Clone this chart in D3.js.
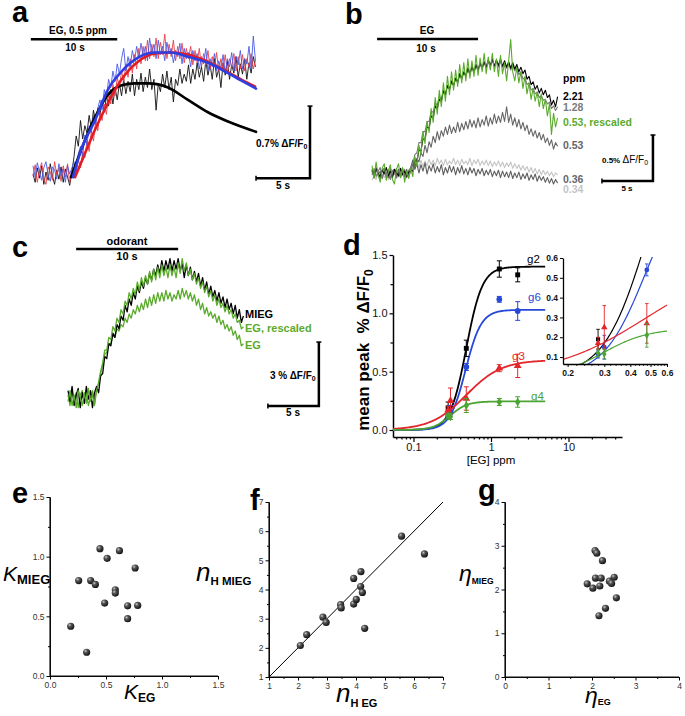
<!DOCTYPE html>
<html><head><meta charset="utf-8">
<script src="https://cdn.jsdelivr.net/npm/d3@7"></script>
<style>body{margin:0;background:#fff;} svg{display:block;font-family:Arial,"Liberation Sans",Helvetica,sans-serif;}</style>
</head><body><script>
// ================= DATA =================
// panel a: traces sampled every 0.2 s (% dF/F0)
const aDt = 0.2;
const aBlue = [0.06,-0.05,0.09,0.0,-0.08,0.04,0.1,-0.03,-0.09,0.05,0.02,-0.07,0.08,-0.04,0.03,-0.1,0.06,-0.02,0.04,
 0.1,-0.02,0.18,0.25,0.15,0.36,0.26,0.45,0.38,0.55,0.46,0.62,0.7,0.6,0.8,0.72,0.9,0.82,0.98,0.88,1.05,0.95,1.1,1.2,0.98,1.12,1.02,1.18,1.08,1.22,1.1,1.25,1.12,1.22,1.08,1.3,1.15,1.24,1.1,1.28,1.14,1.22,1.08,1.26,1.15,1.2,1.06,1.18,1.12,1.25,1.05,1.2,1.1,1.16,1.02,1.18,1.08,1.15,1.0,1.12,1.05,1.2,0.98,1.1,1.02,1.15,0.98,1.08,1.0,1.14,0.96,1.1,1.02,1.16,0.98,1.12,1.04,1.18,1.0,1.1,1.05,1.22,1.0,1.32,1.08];
const aRed = [-0.04,0.07,-0.1,0.02,0.09,-0.06,-0.12,0.05,0.0,-0.08,0.1,-0.03,0.04,-0.09,0.06,-0.05,0.08,-0.11,0.02,-0.06,
 0.0,0.12,0.04,0.2,0.14,0.3,0.2,0.4,0.3,0.5,0.4,0.58,0.5,0.66,0.56,0.75,0.66,0.85,0.74,0.92,0.82,0.98,0.88,1.05,0.92,1.1,0.96,1.14,1.0,1.2,1.05,1.22,1.08,1.28,1.1,1.24,1.12,1.3,1.1,1.26,1.14,1.34,1.1,1.24,1.12,1.28,1.08,1.22,1.1,1.25,1.06,1.2,1.1,1.22,1.04,1.18,1.06,1.2,1.02,1.15,1.04,1.18,1.0,1.12,1.02,1.16,0.98,1.1,1.0,1.14,0.96,1.1,1.02,1.15,0.98,1.12,1.0,1.14,0.98,1.1,1.02,1.15,1.0,1.08];
const aBlack = [-0.02,-0.1,0.04,-0.06,0.06,-0.12,0.0,-0.08,0.08,-0.04,-0.12,0.02,-0.07,0.05,-0.1,0.03,-0.05,-0.13,
 0.0,0.15,0.35,0.25,0.5,0.32,0.45,0.38,0.55,0.42,0.6,0.48,0.62,0.55,0.7,0.58,0.74,0.64,0.8,0.66,0.82,0.7,0.86,0.74,0.9,0.76,0.88,0.78,0.95,0.74,0.9,0.8,0.96,0.78,0.92,0.82,1.0,0.8,0.9,0.6,0.86,0.78,0.95,0.82,0.98,0.8,0.92,0.68,0.9,0.84,1.0,0.86,0.95,0.88,1.04,0.86,1.0,0.9,1.06,0.92,1.02,0.88,1.08,0.94,1.04,0.9,1.1,0.92,1.0,0.82,1.06,0.94,1.08,0.9,1.04,0.96,1.12,0.92,1.05,0.95,1.1,0.9,1.06,0.96,1.12,1.02];
// fits: [time s, % dF/F0]
const aFitBlack = [[3.52,-0.05],[4.44,0.21],[5.74,0.53],[6.94,0.75],[8.15,0.84],[9.44,0.86],[10.65,0.86],[12.5,0.82],[14.35,0.7],[16.2,0.58],[18.06,0.49],[20.65,0.39]];
const aFitRed = [[3.89,-0.05],[4.81,0.18],[5.74,0.41],[6.94,0.67],[8.15,0.89],[9.72,1.07],[11.3,1.15],[12.78,1.16],[14.35,1.14],[16.2,1.07],[18.06,0.97],[19.26,0.9],[20.56,0.83]];
const aFitBlue = [[3.7,-0.05],[4.44,0.21],[5.74,0.5],[6.94,0.8],[8.15,0.97],[9.72,1.11],[11.3,1.16],[12.78,1.16],[14.35,1.12],[16.2,1.06],[18.06,0.96],[19.26,0.89],[20.65,0.81]];
const aStim = [-0.2, 7.8];

// panel b: sampled every 0.2 s
const bDt = 0.2;
const b221 = [0.04,-0.02,0.05,0.0,-0.04,0.03,-0.01,0.06,-0.03,0.02,-0.05,0.04,0.0,-0.03,0.05,-0.02,0.02,-0.04,0.01,
 0.03,0.02,0.14,0.12,0.25,0.24,0.37,0.37,0.5,0.49,0.62,0.6,0.73,0.7,0.8,0.78,0.89,0.85,0.95,0.91,1.0,0.95,1.03,0.99,1.08,1.03,1.1,1.06,1.14,1.08,1.16,1.1,1.18,1.12,1.2,1.14,1.21,1.15,1.23,1.17,1.24,1.16,1.23,1.17,1.24,1.16,1.22,1.15,1.21,1.14,1.2,1.13,1.18,1.1,1.15,1.08,1.12,1.02,1.05,0.96,0.99,0.91,0.95,0.87,0.92,0.85,0.9,0.82,0.85,0.74,0.79,0.72,0.83];
const b128 = [-0.02,0.05,-0.04,0.02,0.06,-0.05,0.01,-0.03,0.04,-0.06,0.03,-0.01,0.05,-0.04,0.02,-0.02,0.04,-0.05,0.03,
 0.06,0.1,0.2,0.22,0.33,0.33,0.45,0.45,0.56,0.56,0.67,0.66,0.76,0.74,0.83,0.8,0.9,0.86,0.95,0.91,0.99,0.95,1.03,0.98,1.06,1.02,1.09,1.05,1.12,1.07,1.14,1.09,1.16,1.11,1.18,1.13,1.2,1.14,1.21,1.15,1.22,1.16,1.22,1.15,1.21,1.15,1.2,1.14,1.19,1.12,1.17,1.11,1.15,1.07,1.1,1.02,1.04,0.96,0.98,0.9,0.92,0.86,0.88,0.82,0.84,0.79,0.8,0.75,0.77,0.7,0.73,0.68,0.72];
const b053r = [0.08,-0.06,0.12,-0.02,-0.1,0.05,0.1,-0.08,0.02,0.09,-0.07,-0.12,0.04,0.1,-0.05,0.06,-0.1,0.02,-0.06,
 0.05,-0.04,0.18,0.08,0.3,0.2,0.45,0.32,0.56,0.44,0.7,0.55,0.82,0.64,0.9,0.72,0.98,0.78,1.05,0.85,1.1,0.9,1.12,0.94,1.18,0.98,1.2,1.0,1.24,1.03,1.22,1.05,1.28,1.06,1.25,1.1,1.3,1.08,1.26,1.12,1.3,1.1,1.24,1.05,1.28,1.08,1.2,1.0,1.22,1.45,1.1,1.0,1.15,0.98,1.1,0.92,1.05,0.86,0.98,0.8,0.92,0.78,0.88,0.72,0.86,0.7,0.8,0.62,0.75,0.42,0.65,0.5,0.6];
const b053 = [0.03,-0.04,0.06,-0.02,0.02,-0.06,0.04,0.0,-0.05,0.05,-0.03,0.02,-0.05,0.04,-0.02,0.05,-0.04,0.01,-0.03,
 0.02,0.1,0.06,0.16,0.12,0.22,0.18,0.3,0.22,0.34,0.28,0.4,0.33,0.45,0.36,0.46,0.4,0.5,0.42,0.52,0.43,0.5,0.44,0.55,0.45,0.54,0.47,0.56,0.48,0.58,0.5,0.57,0.49,0.6,0.5,0.58,0.52,0.62,0.51,0.6,0.53,0.64,0.54,0.62,0.55,0.66,0.56,0.72,0.55,0.64,0.52,0.6,0.5,0.58,0.48,0.55,0.46,0.52,0.42,0.48,0.4,0.46,0.38,0.44,0.36,0.42,0.33,0.38,0.3,0.36,0.26,0.33,0.29];
const b036 = [0.02,-0.05,0.04,-0.02,-0.06,0.03,0.05,-0.04,0.0,-0.07,0.02,0.04,-0.03,0.01,-0.05,0.03,-0.02,0.04,-0.04,
 0.06,0.14,0.04,0.1,0.0,0.09,0.02,0.11,-0.01,0.08,0.02,0.1,0.0,0.07,0.01,0.09,-0.02,0.06,0.0,0.08,0.01,0.07,-0.02,0.06,0.0,0.08,-0.01,0.05,-0.02,0.06,0.0,0.05,-0.03,0.04,-0.01,0.05,-0.03,0.03,-0.02,0.04,-0.04,0.02,-0.03,0.03,-0.05,0.02,-0.04,0.01,-0.05,0.02,-0.06,0.0,-0.05,0.01,-0.07,-0.01,-0.06,0.0,-0.08,-0.02,-0.07,-0.01,-0.09,-0.03,-0.08,-0.04,-0.1,-0.05,-0.11,-0.06,-0.12,-0.07,-0.11];
const b034 = [-0.08,-0.03,-0.07,0.0,-0.06,-0.02,-0.05,0.01,-0.07,-0.01,-0.04,0.0,-0.06,-0.02,-0.03,0.01,-0.05,-0.01,-0.03,
 0.02,0.08,0.04,0.12,0.06,0.14,0.07,0.13,0.08,0.15,0.09,0.14,0.08,0.16,0.1,0.14,0.08,0.15,0.09,0.13,0.1,0.16,0.09,0.14,0.08,0.15,0.1,0.13,0.09,0.16,0.08,0.14,0.1,0.15,0.08,0.13,0.09,0.14,0.08,0.13,0.07,0.12,0.08,0.13,0.07,0.12,0.06,0.11,0.07,0.12,0.05,0.1,0.05,0.09,0.03,0.08,0.03,0.07,0.01,0.06,0.0,0.05,-0.01,0.04,-0.02,0.03,-0.02,0.02,-0.03,0.01,-0.04,0.0,-0.02];
const bStim = [0.5, 10.4];
const bLabels = ["ppm","2.21","1.28","0.53, rescaled","0.53","0.36","0.34"];

// panel c: sampled every 0.2 s
const cDt = 0.2;
const cMIEG = [0.3,-0.2,0.5,-0.4,0.1,0.4,-0.5,0.2,-0.3,0.5,-0.1,0.3,-0.5,0.2,
 0.5,0.2,1.0,1.1,1.9,1.8,2.5,2.4,3.0,2.8,3.4,3.2,3.8,3.6,4.3,4.0,4.6,4.3,4.9,4.6,5.2,4.9,5.4,5.1,5.6,5.3,5.8,5.5,6.0,5.7,6.2,5.8,6.4,5.9,6.4,6.0,6.5,5.9,6.4,6.0,6.5,5.9,6.3,5.6,6.2,5.7,6.1,5.5,5.9,5.4,5.8,5.2,5.6,5.0,5.4,4.8,5.2,4.7,5.0,4.5,4.9,4.4,4.7,4.2,4.6,4.1,4.4,3.9,4.3,3.7,4.1,3.5,3.8];
const cEGres = [-0.2,0.3,-0.4,0.1,-0.5,0.3,0.0,-0.4,0.2,-0.3,0.4,-0.2,0.1,-0.4,
 0.3,0.7,1.2,1.6,2.2,2.2,2.8,2.7,3.3,3.1,3.7,3.5,4.1,3.9,4.5,4.3,4.9,4.6,5.1,4.8,5.4,5.0,5.6,5.2,5.7,5.3,5.9,5.4,6.0,5.5,6.1,5.6,6.2,5.7,6.1,5.6,6.2,5.7,6.1,5.6,6.3,5.8,6.5,5.9,6.3,5.7,6.0,5.5,5.8,5.3,5.6,5.1,5.4,4.9,5.2,4.7,5.0,4.5,4.8,4.3,4.6,4.2,4.4,4.0,4.3,3.9,4.1,3.7,3.9,3.5,3.6,3.2,3.3];
const cEG = [0.1,-0.4,0.3,-0.2,0.2,-0.5,0.1,0.3,-0.3,0.2,-0.4,0.0,0.3,-0.3,
 0.4,0.6,1.1,1.5,2.0,2.1,2.5,2.5,2.9,2.8,3.2,3.1,3.4,3.3,3.7,3.5,3.9,3.7,4.1,3.9,4.3,4.0,4.4,4.1,4.6,4.2,4.7,4.3,4.8,4.4,4.9,4.5,4.9,4.5,5.0,4.6,4.9,4.5,4.8,4.6,5.0,4.6,5.1,4.7,5.0,4.6,4.9,4.5,4.8,4.3,4.6,4.1,4.4,3.9,4.2,3.8,4.0,3.7,3.9,3.5,3.8,3.4,3.6,3.2,3.4,3.1,3.3,2.9,3.1,2.7,2.9,2.4,2.5];
const cStim = [0.8, 10.8];

// panel d: dose-response (x ppm, mean peak, error)
const g2X=[0.28,0.48,1.28,2.21], g2Y=[0.19,0.70,1.38,1.33], g2E=[0.05,0.07,0.07,0.06];
const g6X=[0.28,0.30,0.48,1.28,2.21], g6Y=[0.115,0.15,0.54,1.12,1.02], g6E=[0.02,0.06,0.03,0.025,0.08];
const g3X=[0.28,0.30,0.48,1.28,2.21], g3Y=[0.17,0.25,0.27,0.53,0.55], g3E=[0.03,0.11,0.1,0.03,0.1];
const g4X=[0.28,0.30,0.48,1.28,2.21], g4Y=[0.12,0.115,0.21,0.24,0.24], g4E=[0.02,0.025,0.06,0.03,0.045];
// Hill fit parameters
const fitNames=["g2","g6","g3","g4"];
const fitMax=[1.40,1.03,0.60,0.245];
const fitK=[0.48,0.47,0.48,0.297];
const fitN=[4.2,4.3,1.9,4.0];
const dYTicks=[0,0.5,1.0,1.5];
const dXTicks=[0.1,1,10];
const insetYTicks=[0.1,0.2,0.3,0.4,0.5,0.6];
const insetXTicks=[0.2,0.3,0.4,0.5,0.6];

// panel e
const eKEG=[0.446,0.62,0.51,0.76,0.256,0.363,0.405,0.583,0.583,0.488,0.693,0.783,0.693,0.185,0.327];
const eKMIEG=[1.067,1.05,0.986,0.905,0.80,0.80,0.767,0.722,0.695,0.611,0.588,0.591,0.48,0.417,0.199];
// panel f
const fNEG=[2.08,2.30,2.86,2.97,3.47,3.49,3.92,3.92,4.01,4.17,4.16,4.22,4.30,5.57,6.36];
const fNMIEG=[2.08,2.45,3.05,2.87,3.48,3.37,4.38,3.50,3.66,4.61,4.10,3.90,2.67,5.83,5.22];
// panel g
const gEtaEG=[2.07,2.11,2.24,2.08,2.21,2.51,2.40,2.45,1.89,2.02,2.18,2.56,2.31,2.16];
const gEtaMIEG=[2.89,2.83,2.66,2.26,2.26,2.28,2.19,2.14,2.13,2.03,2.08,1.81,1.57,1.40];

// ================= DRAWING =================
const FONT="Arial,'Liberation Sans',Helvetica,sans-serif";
const svg=d3.select("body").append("svg").attr("width",685).attr("height",716);
svg.append("rect").attr("width",685).attr("height",716).attr("fill","#fff");
const defs=svg.append("defs");
const grad=defs.append("radialGradient").attr("id","sphere").attr("cx","35%").attr("cy","32%").attr("r","70%");
grad.append("stop").attr("offset","0%").attr("stop-color","#c8c8c8");
grad.append("stop").attr("offset","35%").attr("stop-color","#555");
grad.append("stop").attr("offset","100%").attr("stop-color","#111");

function rich(sel,x,y,parts,anchor){
  const t=sel.append("text").attr("x",x).attr("y",y).attr("text-anchor",anchor||"start");
  parts.forEach(p=>{
    const s=t.append("tspan").text(p.t).attr("font-size",p.size);
    if(p.weight) s.attr("font-weight",p.weight);
    if(p.style) s.attr("font-style",p.style);
    if(p.dy!==undefined) s.attr("dy",p.dy);
    if(p.fill) s.attr("fill",p.fill);
  });
  return t;
}
function label(sel,x,y,txt,size,opts){
  opts=opts||{};
  return sel.append("text").attr("x",x).attr("y",y).text(txt).attr("font-size",size)
    .attr("font-weight",opts.weight||"bold").attr("fill",opts.fill||"#000")
    .attr("text-anchor",opts.anchor||"start");
}
function trace(g,xs,ys,vals,dt,color,w){
  g.append("path").attr("d",d3.line().x((d,i)=>xs(i*dt)).y(d=>ys(d))(vals))
   .attr("fill","none").attr("stroke",color).attr("stroke-width",w).attr("stroke-linejoin","round");
}
function fit(g,xs,ys,pts,color,w){
  g.append("path").attr("d",d3.line().curve(d3.curveMonotoneX).x(d=>xs(d[0])).y(d=>ys(d[1]))(pts))
   .attr("fill","none").attr("stroke",color).attr("stroke-width",w).attr("stroke-linecap","round");
}
function scaleBar(g,xs,ys,t0,v0,dT,dV){
  const x0=xs(t0),x1=xs(t0+dT),y0=ys(v0),y1=ys(v0+dV);
  g.append("path").attr("d",`M${x0},${y0}H${x1}V${y1}`).attr("fill","none").attr("stroke","#000").attr("stroke-width",2.5);
  g.append("line").attr("x1",x0).attr("x2",x0).attr("y1",y0-2.5).attr("y2",y0+2.5).attr("stroke","#000").attr("stroke-width",1.5);
  g.append("line").attr("x1",x1-2.5).attr("x2",x1+2.5).attr("y1",y1).attr("y2",y1).attr("stroke","#000").attr("stroke-width",1.5);
}
function stimBar(g,xs,ys,range,v){
  g.append("line").attr("x1",xs(range[0])).attr("x2",xs(range[1])).attr("y1",ys(v)).attr("y2",ys(v))
   .attr("stroke","#000").attr("stroke-width",2.5);
}

// panel letters
[["a",12,22],["b",345,24],["c",12,257],["d",343,255],["e",12,503],["f",250,510],["g",478,500]].forEach(p=>{
  label(svg,p[1],p[2],p[0],29);
});

// ---------- panel a ----------
{
  const g=svg.append("g");
  const xA=d3.scaleLinear().domain([0,20.65]).range([33,256]);
  const yA=d3.scaleLinear().domain([0,1]).range([172,69]);
  trace(g,xA,yA,aBlack,aDt,"#111",0.9);
  trace(g,xA,yA,aRed,aDt,"#e8404a",0.9);
  trace(g,xA,yA,aBlue,aDt,"#4a5ae6",0.9);
  fit(g,xA,yA,aFitBlack,"#000",2.6);
  fit(g,xA,yA,aFitRed,"#e31c24",2.6);
  fit(g,xA,yA,aFitBlue,"#2d3fe2",2.6);
  stimBar(g,xA,yA,aStim,1.29);
  label(g,78,34,"EG, 0.5 ppm",10,{anchor:"middle"});
  label(g,75,51,"10 s",10,{anchor:"middle"});
  scaleBar(g,xA,yA,20.65,-0.06,5,0.7);
  rich(g,256,147,[{t:"0.7% \u0394F/F",size:10,weight:"bold"},{t:"0",size:7,weight:"bold",dy:2}]);
  label(g,283,189,"5 s",10,{anchor:"middle"});
}

// ---------- panel b ----------
{
  const g=svg.append("g");
  const xB=d3.scaleLinear().domain([0,18.2]).range([372,557.6]);
  const yB=d3.scaleLinear().domain([0,1]).range([173,81]);
  trace(g,xB,yB,b034,bDt,"#c4c4c4",1.1);
  trace(g,xB,yB,b036,bDt,"#5e5e5e",1.1);
  trace(g,xB,yB,b053,bDt,"#666",1.1);
  trace(g,xB,yB,b128,bDt,"#7a7a7a",1.1);
  trace(g,xB,yB,b221,bDt,"#000",1.1);
  trace(g,xB,yB,b053r,bDt,"#5aab2c",1.1);
  stimBar(g,xB,yB,bStim,1.457);
  label(g,427,34,"EG",10,{anchor:"middle"});
  label(g,426,52,"10 s",10,{anchor:"middle"});
  const cols=["#000","#000","#7a7a7a","#5aab2c","#666","#666","#c4c4c4"];
  const ys=[82,100,111,126,149,183,193];
  bLabels.forEach((t,i)=>label(g,563,ys[i],t,10.5,{fill:cols[i]}));
  scaleBar(g,xB,yB,22.55,-0.087,5,0.5);
  rich(g,602,163,[{t:"0.5%  ",size:8,weight:"bold"},{t:"\u0394F/F",size:10},{t:"0",size:7,dy:2}]);
  label(g,627,191,"5 s",8,{anchor:"middle"});
}

// ---------- panel c ----------
{
  const g=svg.append("g");
  const xC=d3.scaleLinear().domain([0,17.2]).range([68,243.4]);
  const yC=d3.scaleLinear().domain([0,1]).range([397,375.7]);
  trace(g,xC,yC,cEG,cDt,"#5aab2c",1.3);
  trace(g,xC,yC,cMIEG,cDt,"#000",1.3);
  trace(g,xC,yC,cEGres,cDt,"#5aab2c",1.3);
  stimBar(g,xC,yC,cStim,6.95);
  label(g,127,245,"odorant",11,{anchor:"middle"});
  label(g,127,260,"10 s",11,{anchor:"middle"});
  label(g,245,318,"MIEG",11);
  label(g,245,332,"EG, rescaled",11,{fill:"#5aab2c"});
  label(g,245,349,"EG",11,{fill:"#5aab2c"});
  scaleBar(g,xC,yC,19.6,-0.42,5,3);
  rich(g,270,379,[{t:"3 % \u0394F/F",size:10,weight:"bold"},{t:"0",size:7,weight:"bold",dy:2}]);
  label(g,293,416,"5 s",10,{anchor:"middle"});
}

// ---------- panel d ----------
{
  const g=svg.append("g");
  const xD=d3.scaleLog().domain([0.0544,49]).range([393,622]);
  const yD=d3.scaleLinear().domain([-0.06,1.5]).range([437,255]);
  const colors={g2:"#000",g6:"#2748d8",g3:"#e3262b",g4:"#4ca432"};
  const series=[
    {name:"g2",x:g2X,y:g2Y,e:g2E,sym:d3.symbolSquare,size:24},
    {name:"g6",x:g6X,y:g6Y,e:g6E,sym:d3.symbolCircle,size:26},
    {name:"g3",x:g3X,y:g3Y,e:g3E,sym:d3.symbolTriangle,size:26},
    {name:"g4",x:g4X,y:g4Y,e:g4E,sym:d3.symbolDiamond,size:24}];
  const hill=(i,c)=>fitMax[i]*Math.pow(c/fitK[i],fitN[i])/(1+Math.pow(c/fitK[i],fitN[i]));
  // axes
  const ga=g.append("g");
  ga.append("g").attr("transform","translate(0,437)")
    .call(d3.axisBottom(xD).tickValues(dXTicks).tickFormat(d3.format("~g")).tickSize(5).tickPadding(1).tickSizeOuter(0));
  const minorX=[];[0.01,0.1,1,10].forEach(dec=>{for(let k=2;k<=9;k++){const v=dec*k;if(v>0.0544&&v<49)minorX.push(v);}});
  ga.append("g").attr("transform","translate(0,437)").call(d3.axisBottom(xD).tickValues(minorX).tickFormat("").tickSize(2.5)).call(s=>s.select(".domain").remove());
  ga.append("g").attr("transform","translate(393,0)")
    .call(d3.axisLeft(yD).tickValues(dYTicks).tickFormat(d3.format(".1f")).tickSize(3.5).tickPadding(2).tickSizeOuter(0));
  ga.append("g").attr("transform","translate(393,0)").call(d3.axisLeft(yD).tickValues([0.25,0.75,1.25]).tickFormat("").tickSize(2.5)).call(s=>s.select(".domain").remove());
  ga.selectAll(".tick text").attr("font-size",11).attr("font-family",FONT).attr("fill","#111");
  ga.selectAll("path.domain").attr("stroke-width",1.5);
  ga.selectAll(".tick line").attr("stroke-width",1.2);
  // curves
  const cs=d3.range(0,201).map(i=>0.0544*Math.pow(5/0.0544,i/200));
  fitNames.forEach((n,i)=>{
    g.append("path").attr("d",d3.line().x(c=>xD(c)).y(c=>yD(hill(i,c)))(cs))
      .attr("fill","none").attr("stroke",colors[n]).attr("stroke-width",1.8);
  });
  // points
  const drawPts=(gg,xs,ys,filter,sz,cap,lw)=>{
    series.forEach(s=>{
      s.x.forEach((xv,j)=>{
        if(!filter(xv,s.y[j])) return;
        const X=xs(xv),Y=ys(s.y[j]);
        gg.append("line").attr("x1",X).attr("x2",X).attr("y1",ys(s.y[j]-s.e[j])).attr("y2",ys(s.y[j]+s.e[j])).attr("stroke",colors[s.name]).attr("stroke-width",lw);
        [s.y[j]-s.e[j],s.y[j]+s.e[j]].forEach(v=>gg.append("line").attr("x1",X-cap).attr("x2",X+cap).attr("y1",ys(v)).attr("y2",ys(v)).attr("stroke",colors[s.name]).attr("stroke-width",lw));
        gg.append("path").attr("d",d3.symbol().type(s.sym).size(s.size*sz)()).attr("transform",`translate(${X},${Y})`).attr("fill",colors[s.name]);
      });
    });
  };
  drawPts(g,xD,yD,()=>true,1,2.5,1);
  // curve labels
  const lp={g2:[527,263],g6:[528,301],g3:[512,360],g4:[531,400]};
  fitNames.forEach(n=>label(g,lp[n][0],lp[n][1],n,11.5,{weight:"normal",fill:colors[n]}));
  // axis titles
  label(g,491,464,"[EG] ppm",11.5,{weight:"normal",anchor:"middle"});
  rich(g,0,0,[{t:"mean peak\u00A0\u00A0% \u0394F/F",size:17,weight:"bold"},{t:"0",size:12,weight:"bold",dy:4}],"middle")
    .attr("transform","translate(369,350) rotate(-90)");
  // inset
  const xI=d3.scaleLog().domain([0.19,0.6]).range([563,667]);
  const yI=d3.scaleLinear().domain([0.065,0.6]).range([364,258]);
  defs.append("clipPath").attr("id","insetClip").append("rect").attr("x",563).attr("y",257).attr("width",105).attr("height",107);
  const gi=g.append("g");
  const gc=gi.append("g").attr("clip-path","url(#insetClip)");
  const ci=d3.range(0,101).map(i=>0.19*Math.pow(0.6/0.19,i/100));
  fitNames.forEach((n,i)=>{
    gc.append("path").attr("d",d3.line().x(c=>xI(c)).y(c=>yI(hill(i,c)))(ci))
      .attr("fill","none").attr("stroke",colors[n]).attr("stroke-width",1.2);
  });
  drawPts(gc,xI,yI,(x,y)=>x<=0.6&&y<=0.6,0.7,1.8,0.9);
  const gia=gi.append("g");
  gia.append("g").attr("transform","translate(0,364)")
    .call(d3.axisBottom(xI).tickValues(insetXTicks).tickFormat(d3.format(".1f")).tickSize(3).tickSizeOuter(0));
  gia.append("g").attr("transform","translate(0,364)").call(d3.axisBottom(xI).tickValues(d3.range(0.22,0.6,0.02).filter(v=>Math.abs(v*10-Math.round(v*10))>0.01)).tickFormat("").tickSize(1.8)).call(s=>s.select(".domain").remove());
  gia.append("g").attr("transform","translate(563,0)")
    .call(d3.axisLeft(yI).tickValues(insetYTicks).tickFormat(d3.format(".1f")).tickSize(3).tickPadding(2).tickSizeOuter(0));
  gia.selectAll(".tick text").attr("font-size",8.5).attr("font-weight","bold").attr("font-family",FONT).attr("fill","#111");
  gia.selectAll("path.domain").attr("stroke-width",1.3);
}

// ---------- scatter panels e, f, g ----------
function scatter(xs,ys,xTicks,yTicks,xMinor,yMinor,fmt){
  const g=svg.append("g");
  const [x0,x1]=xs.range();
  const [y0,y1]=ys.range();
  const ax=g.append("g");
  ax.append("g").attr("transform",`translate(0,${y0})`).call(d3.axisBottom(xs).tickValues(xTicks).tickFormat(fmt).tickSize(3.5).tickPadding(2).tickSizeOuter(0));
  ax.append("g").attr("transform",`translate(0,${y0})`).call(d3.axisBottom(xs).tickValues(xMinor).tickFormat("").tickSize(2)).call(s=>s.select(".domain").remove());
  ax.append("g").attr("transform",`translate(${x0},0)`).call(d3.axisLeft(ys).tickValues(yTicks).tickFormat(fmt).tickSize(3.5).tickPadding(2).tickSizeOuter(0));
  ax.append("g").attr("transform",`translate(${x0},0)`).call(d3.axisLeft(ys).tickValues(yMinor).tickFormat("").tickSize(2)).call(s=>s.select(".domain").remove());
  ax.selectAll(".tick text").attr("font-size",8.5).attr("font-family",FONT).attr("fill","#333");
  // explicit axis lines
  g.append("line").attr("x1",x0).attr("x2",x1).attr("y1",y0).attr("y2",y0).attr("stroke","#111").attr("stroke-width",1.2);
  g.append("line").attr("x1",x0).attr("x2",x0).attr("y1",y0).attr("y2",y1).attr("stroke","#111").attr("stroke-width",1.2);
  return g;
}
function balls(g,xs,ys,X,Y){
  X.forEach((xv,i)=>g.append("circle").attr("cx",xs(xv)).attr("cy",ys(Y[i])).attr("r",3.6).attr("fill","url(#sphere)"));
}
{
  const xE=d3.scaleLinear().domain([0,1.5]).range([50,218]);
  const yE=d3.scaleLinear().domain([0,1.5]).range([676,497]);
  const g=scatter(xE,yE,[0,0.5,1,1.5],[0,0.5,1,1.5],[0.25,0.75,1.25],[0.25,0.75,1.25],d3.format(".1f"));
  balls(g,xE,yE,eKEG,eKMIEG);
  rich(g,3,581,[{t:"K",size:21,style:"italic"},{t:"MIEG",size:13,weight:"bold",dy:3}]);
  rich(g,124,699,[{t:"K",size:21,style:"italic"},{t:"EG",size:12,weight:"bold",dy:3}]);
}
{
  const xF=d3.scaleLinear().domain([1,7]).range([269,443]);
  const yF=d3.scaleLinear().domain([1,7]).range([677,502]);
  const g=scatter(xF,yF,[1,2,3,4,5,6,7],[1,2,3,4,5,6,7],d3.range(1.5,7,1),d3.range(1.5,7,1),d3.format("d"));
  g.append("line").attr("x1",xF(1)).attr("y1",yF(1)).attr("x2",xF(7)).attr("y2",yF(7)).attr("stroke","#000").attr("stroke-width",1);
  balls(g,xF,yF,fNEG,fNMIEG);
  rich(g,196,581,[{t:"n",size:26,style:"italic"},{t:"H MIEG",size:11.5,weight:"bold",dy:4}]);
  rich(g,336,702,[{t:"n",size:26,style:"italic"},{t:"H EG",size:11,weight:"bold",dy:5}]);
}
{
  const xG=d3.scaleLinear().domain([0,4]).range([505,679]);
  const yG=d3.scaleLinear().domain([0,4]).range([677,502]);
  const g=scatter(xG,yG,[0,1,2,3,4],[0,1,2,3,4],d3.range(0.5,4,1),d3.range(0.5,4,1),d3.format("d"));
  balls(g,xG,yG,gEtaEG,gEtaMIEG);
  rich(g,459,581,[{t:"\u03B7",size:23,style:"italic"},{t:"MIEG",size:8.5,weight:"bold",dy:3}]);
  rich(g,585,703,[{t:"\u03B7",size:23,style:"italic"},{t:"EG",size:9,weight:"bold",dy:2}]);
}
</script></body></html>
